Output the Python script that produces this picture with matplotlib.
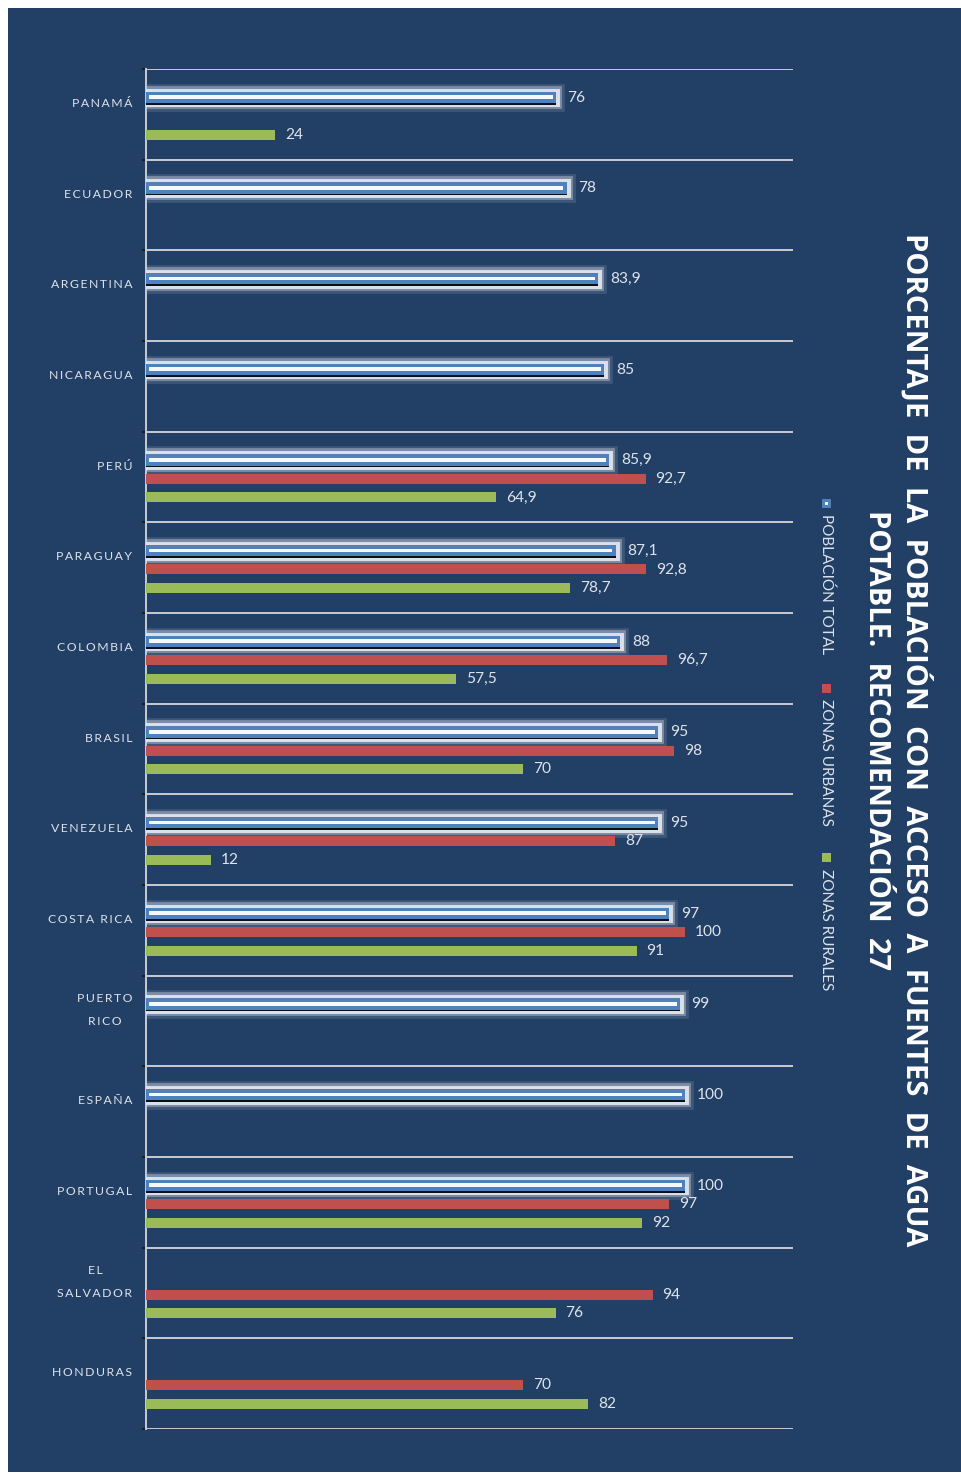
import matplotlib
matplotlib.use('Agg')
import matplotlib.pyplot as plt
import matplotlib.patheffects as pe
from matplotlib.patches import Rectangle
import numpy as np

# datos por país (de arriba a abajo)
paises = ['PANAMÁ', 'ECUADOR', 'ARGENTINA', 'NICARAGUA', 'PERÚ', 'PARAGUAY',
          'COLOMBIA', 'BRASIL', 'VENEZUELA', 'COSTA RICA', 'PUERTO\nRICO',
          'ESPAÑA', 'PORTUGAL', 'EL\nSALVADOR', 'HONDURAS']
total = [76, 78, 83.9, 85, 85.9, 87.1, 88, 95, 95, 97, 99, 100, 100, None, None]
urbanas = [None, None, None, None, 92.7, 92.8, 96.7, 98, 87, 100, None, None, 97, 94, 70]
rurales = [24, None, None, None, 64.9, 78.7, 57.5, 70, 12, 91, None, None, 92, 76, 82]

titulo = ('PORCENTAJE  DE  LA  POBLACIÓN  CON  ACCESO  A  FUENTES  DE  AGUA\n'
          'POTABLE.  RECOMENDACIÓN  27')
leyenda = ['POBLACIÓN TOTAL', 'ZONAS URBANAS', 'ZONAS RURALES']

FONDO = '#223f66'
AZUL = '#4f81bd'
ROJO = '#c0504d'
VERDE = '#9bbb59'
TEXTO = '#dde3ea'
GRIS = '#c9ccd1'

plt.rcParams['font.family'] = ['Lato', 'DejaVu Sans']

W, H = 961, 1477
fig = plt.figure(figsize=(W / 100, H / 100), dpi=100, facecolor='white')

# panel azul de fondo
fig.patches.append(Rectangle((8 / W, 1 - 1472 / H), (W - 8) / W, (1472 - 8) / H,
                             transform=fig.transFigure, facecolor=FONDO,
                             edgecolor='none', zorder=-10))

ax = fig.add_axes([146 / W, 1 - 1429 / H, (793 - 146) / W, (1429 - 69) / H])
ax.set_facecolor('none')
ax.set_zorder(1)

n = len(paises)
y = np.arange(n) + 0.02
off = 0.205
alto = 0.11

def fmt(v):
    if float(v).is_integer():
        return str(int(v))
    return ('%.1f' % v).replace('.', ',')

# barras de población total con halo
for i, v in enumerate(total):
    if v is None:
        continue
    yy = y[i] - off
    ax.barh(yy, v, height=0.13, color=AZUL, zorder=3,
            path_effects=[pe.withStroke(linewidth=12, foreground='#aeb9c7', alpha=0.2),
                          pe.withStroke(linewidth=8.5, foreground='#c9d1db', alpha=0.45),
                          pe.withStroke(linewidth=5, foreground='#e6eaef', alpha=0.9),
                          pe.Normal()])
    ax.barh(yy + 0.07, v, height=0.02, color='#0b0f18', zorder=4)
    ax.barh(yy - 0.005, v - 1.2, left=0.6, height=0.04, color='#f6f8fa', zorder=5)
    ax.annotate(fmt(v), (v, yy), xytext=(8.5, 0), textcoords='offset points',
                va='center', ha='left', color=TEXTO, fontsize=11.2, zorder=6)

for serie, color, d in [(urbanas, ROJO, 0.0), (rurales, VERDE, off)]:
    for i, v in enumerate(serie):
        if v is None:
            continue
        yy = y[i] + d
        ax.barh(yy, v, height=alto, color=color, zorder=3)
        ax.annotate(fmt(v), (v, yy), xytext=(7, 0), textcoords='offset points',
                    va='center', ha='left', color=TEXTO, fontsize=11.2, zorder=6)

ax.set_xlim(0, 120)
ax.set_ylim(n - 0.5, -0.5)

# líneas de separación entre países
for b in np.arange(n + 1) - 0.5:
    ax.axhline(b, color=GRIS, lw=1.4, zorder=2)

ax.set_xticks([])
ax.set_yticks(np.arange(n + 1) - 0.5)
ax.set_yticklabels([])
ax.tick_params(axis='y', length=3, width=1.2, color='#111a28')
for s in ['top', 'right', 'bottom']:
    ax.spines[s].set_visible(False)
ax.spines['left'].set_color(GRIS)
ax.spines['left'].set_linewidth(1.4)

# nombres de países con espaciado entre letras
for i, p in enumerate(paises):
    txt = '\n'.join('\u2009'.join(list(linea)) for linea in p.split('\n'))
    ax.text(-0.021, np.arange(n)[i] - 0.12, txt, transform=ax.get_yaxis_transform(),
            ha='right', va='center', multialignment='center', color=TEXTO,
            fontsize=8.8, linespacing=2.35)

# título vertical
fig.text(897 / W, 1 - 740 / H, titulo, rotation=-90, ha='center', va='center',
         multialignment='center', color='white', fontsize=21, fontweight='bold',
         family=['Open Sans', 'DejaVu Sans'], linespacing=1.38)

# leyenda vertical
items = [(AZUL, 503), (ROJO, 688), (VERDE, 858)]
for (color, yp), etiqueta in zip(items, leyenda):
    s = 9
    fig.patches.append(Rectangle(((826 - s / 2) / W, 1 - (yp + s / 2) / H), s / W, s / H,
                                 transform=fig.transFigure, facecolor=color,
                                 edgecolor='none', zorder=3))
    if color == AZUL:
        fig.patches.append(Rectangle(((826 - 1.5) / W, 1 - (yp + 1.5) / H), 3 / W, 3 / H,
                                     transform=fig.transFigure, facecolor='white',
                                     edgecolor='none', zorder=4))
    fig.text(826 / W, 1 - (yp + 11) / H, etiqueta, rotation=-90, ha='center', va='top',
             color=TEXTO, fontsize=11)

fig.savefig('out.png', dpi=100, facecolor='white')
